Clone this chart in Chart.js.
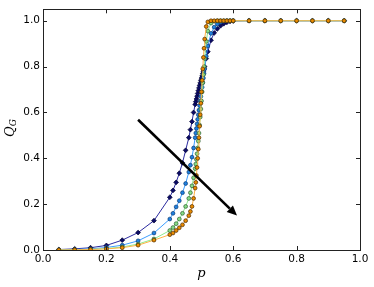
<!DOCTYPE html>
<html>
<head>
<meta charset="utf-8">
<script src="https://cdn.jsdelivr.net/npm/chart.js@4"></script>
<style>
  html, body { margin: 0; padding: 0; background: #fff; }
  #wrap { width: 374px; height: 287px; }
</style>
</head>
<body>
<div id="wrap"><canvas id="grafico"></canvas></div>
<script>
'use strict';

// valores de p (comunes a las cuatro series)
const pValues = [0.05, 0.10, 0.15, 0.20, 0.25, 0.30, 0.35, 0.40, 0.41, 0.42,
  0.43, 0.44, 0.45, 0.46, 0.465, 0.47, 0.475, 0.48, 0.482, 0.484,
  0.486, 0.488, 0.49, 0.492, 0.494, 0.496, 0.498, 0.50, 0.502, 0.504,
  0.506, 0.508, 0.51, 0.515, 0.52, 0.53, 0.54, 0.55, 0.56, 0.57,
  0.58, 0.59, 0.60, 0.65, 0.70, 0.75, 0.80, 0.85, 0.90, 0.95];

// Q_G para cada tamaño (de menor a mayor)
const qNavy = [0.002, 0.005, 0.01, 0.02, 0.043, 0.076, 0.128, 0.23, 0.26, 0.295,
  0.335, 0.38, 0.435, 0.49, 0.525, 0.56, 0.60, 0.635, 0.647, 0.659,
  0.671, 0.683, 0.695, 0.707, 0.718, 0.729, 0.74, 0.75, 0.76, 0.77,
  0.78, 0.79, 0.80, 0.835, 0.865, 0.915, 0.947, 0.965, 0.978, 0.987,
  0.993, 0.997, 0.999, 1, 1, 1, 1, 1, 1, 1];

const qBlue = [0.001, 0.002, 0.005, 0.011, 0.021, 0.04, 0.074, 0.135, 0.16, 0.188,
  0.215, 0.25, 0.29, 0.34, 0.37, 0.405, 0.445, 0.49, 0.51, 0.53,
  0.55, 0.57, 0.59, 0.61, 0.63, 0.65, 0.67, 0.69, 0.71, 0.73,
  0.75, 0.77, 0.79, 0.845, 0.89, 0.945, 0.972, 0.986, 0.994, 0.998,
  1, 1, 1, 1, 1, 1, 1, 1, 1, 1];

const qGreen = [0.0005, 0.001, 0.003, 0.006, 0.013, 0.026, 0.048, 0.085, 0.098, 0.115,
  0.135, 0.16, 0.19, 0.225, 0.25, 0.28, 0.315, 0.355, 0.375, 0.395,
  0.42, 0.445, 0.475, 0.51, 0.545, 0.58, 0.615, 0.65, 0.69, 0.73,
  0.765, 0.80, 0.835, 0.91, 0.955, 0.99, 0.998, 1, 1, 1,
  1, 1, 1, 1, 1, 1, 1, 1, 1, 1];

const qOrange = [0.0002, 0.0005, 0.002, 0.005, 0.01, 0.021, 0.043, 0.067, 0.074, 0.085,
  0.097, 0.11, 0.128, 0.15, 0.168, 0.19, 0.225, 0.27, 0.295, 0.325,
  0.36, 0.40, 0.44, 0.49, 0.54, 0.59, 0.64, 0.69, 0.74, 0.79,
  0.84, 0.88, 0.92, 0.975, 0.995, 1, 1, 1, 1, 1,
  1, 1, 1, 1, 1, 1, 1, 1, 1, 1];

const xTicks = [0.0, 0.2, 0.4, 0.6, 0.8, 1.0];
const yTicks = [0.0, 0.2, 0.4, 0.6, 0.8, 1.0];

// flecha (en unidades de los ejes): inicio y fin
const arrowFrom = [0.30, 0.568];
const arrowTo = [0.612, 0.15];

function puntos(ys) {
  return pValues.map((p, i) => ({ x: p, y: ys[i] }));
}

function serie(ys, lineColor, fill, edge, estilo, orden) {
  return {
    data: puntos(ys),
    showLine: true,
    borderColor: lineColor,
    borderWidth: 1,
    pointStyle: estilo,
    pointRadius: estilo === 'rectRot' ? 2.4 : 1.9,
    pointBackgroundColor: fill,
    pointBorderColor: edge,
    pointBorderWidth: 0.7,
    order: orden
  };
}

// marco, ticks hacia dentro, flecha y títulos
const extras = {
  id: 'extras',
  afterDraw(chart) {
    const ctx = chart.ctx;
    const a = chart.chartArea;
    const sx = chart.scales.x, sy = chart.scales.y;
    ctx.save();
    ctx.strokeStyle = '#222';
    ctx.lineWidth = 1;
    ctx.strokeRect(Math.round(a.left) + 0.5, Math.round(a.top) + 0.5,
      Math.round(a.right - a.left), Math.round(a.bottom - a.top));
    ctx.beginPath();
    for (const v of xTicks) {
      const x = Math.round(sx.getPixelForValue(v)) + 0.5;
      ctx.moveTo(x, a.bottom); ctx.lineTo(x, a.bottom - 4);
      ctx.moveTo(x, a.top); ctx.lineTo(x, a.top + 4);
    }
    for (const v of yTicks) {
      const y = Math.round(sy.getPixelForValue(v)) + 0.5;
      ctx.moveTo(a.left, y); ctx.lineTo(a.left + 4, y);
      ctx.moveTo(a.right, y); ctx.lineTo(a.right - 4, y);
    }
    ctx.stroke();

    // flecha
    const x0 = sx.getPixelForValue(arrowFrom[0]), y0 = sy.getPixelForValue(arrowFrom[1]);
    const x1 = sx.getPixelForValue(arrowTo[0]), y1 = sy.getPixelForValue(arrowTo[1]);
    const ang = Math.atan2(y1 - y0, x1 - x0);
    const headL = 10, headW = 4.5;
    const bx = x1 - headL * Math.cos(ang), by = y1 - headL * Math.sin(ang);
    ctx.strokeStyle = '#000';
    ctx.lineWidth = 2.6;
    ctx.beginPath();
    ctx.moveTo(x0, y0);
    ctx.lineTo(bx, by);
    ctx.stroke();
    ctx.fillStyle = '#000';
    ctx.beginPath();
    ctx.moveTo(x1, y1);
    ctx.lineTo(bx + headW * Math.sin(ang), by - headW * Math.cos(ang));
    ctx.lineTo(bx - headW * Math.sin(ang), by + headW * Math.cos(ang));
    ctx.closePath();
    ctx.fill();

    // títulos de los ejes
    ctx.fillStyle = '#000';
    ctx.textBaseline = 'middle';
    ctx.textAlign = 'center';
    ctx.font = 'italic 13px "DejaVu Serif"';
    ctx.fillText('p', (a.left + a.right) / 2, 274);

    ctx.translate(12, 128);
    ctx.rotate(-Math.PI / 2);
    ctx.textAlign = 'left';
    ctx.font = 'italic 13px "DejaVu Serif"';
    const wq = ctx.measureText('Q').width;
    ctx.font = 'italic 9px "DejaVu Serif"';
    const wg = ctx.measureText('G').width;
    const inicio = -(wq + wg) / 2;
    ctx.font = 'italic 13px "DejaVu Serif"';
    ctx.fillText('Q', inicio, -1);
    ctx.font = 'italic 9px "DejaVu Serif"';
    ctx.fillText('G', inicio + wq, 2);
    ctx.restore();
  }
};

Chart.defaults.font.family = '"DejaVu Sans"';
Chart.defaults.color = '#000';

new Chart('grafico', {
  type: 'scatter',
  data: {
    datasets: [
      serie(qNavy, '#2c2ca0', '#0b0b66', '#000030', 'rectRot', 4),
      serie(qBlue, '#3d9dff', '#1f80e0', '#0c3a70', 'circle', 3),
      serie(qGreen, '#8eea8e', '#86dc86', '#2e5a2e', 'circle', 2),
      serie(qOrange, '#ffb347', '#e98b00', '#4a2a00', 'circle', 1)
    ]
  },
  options: {
    responsive: true,
    maintainAspectRatio: false,
    animation: false,
    layout: { padding: { top: 5, right: 14, left: 0, bottom: 0 } },
    plugins: { legend: { display: false }, tooltip: { enabled: false } },
    scales: {
      x: {
        type: 'linear',
        min: 0, max: 1,
        grid: { display: false, drawTicks: false },
        border: { display: false },
        afterBuildTicks: s => { s.ticks = xTicks.map(v => ({ value: v })); },
        afterFit: s => { s.height = 37; },
        ticks: {
          padding: 3,
          maxRotation: 0,
          font: { size: 10.5 },
          callback: v => v.toFixed(1)
        }
      },
      y: {
        type: 'linear',
        min: 0, max: 1.05,
        grid: { display: false, drawTicks: false },
        border: { display: false },
        afterBuildTicks: s => { s.ticks = yTicks.map(v => ({ value: v })); },
        afterFit: s => { s.width = 43; },
        ticks: {
          padding: 3,
          font: { size: 10.5 },
          callback: v => v.toFixed(1)
        }
      }
    }
  },
  plugins: [extras]
});
</script>
</body>
</html>
